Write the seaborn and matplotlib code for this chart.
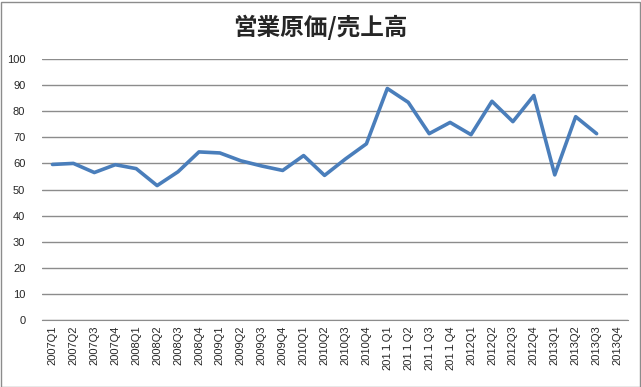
import numpy as np
import pandas as pd
import matplotlib
matplotlib.use('Agg')
import matplotlib.pyplot as plt
import seaborn as sns
from matplotlib.patches import Rectangle

# Quarter labels (2011 uses a full-width "1" as in the source)
quarters = ['2007Q1', '2007Q2', '2007Q3', '2007Q4',
            '2008Q1', '2008Q2', '2008Q3', '2008Q4',
            '2009Q1', '2009Q2', '2009Q3', '2009Q4',
            '2010Q1', '2010Q2', '2010Q3', '2010Q4',
            '201１Q1', '201１Q2', '201１Q3', '201１Q4',
            '2012Q1', '2012Q2', '2012Q3', '2012Q4',
            '2013Q1', '2013Q2', '2013Q3', '2013Q4']

# cost of sales / revenue (%)
ratio = [59.6, 60.0, 56.5, 59.5,
         58.0, 51.5, 56.8, 64.4,
         64.0, 61.0, 59.0, 57.3,
         63.0, 55.4, 61.7, 67.5,
         88.7, 83.4, 71.4, 75.7,
         71.0, 83.8, 76.0, 86.0,
         55.6, 77.9, 71.4, np.nan]

title = '営業原価/売上高'

df = pd.DataFrame({'pos': np.arange(len(quarters)), 'ratio': ratio})

sns.set_style('white')
plt.rcParams['font.family'] = ['Liberation Sans', 'Noto Sans CJK JP', 'DejaVu Sans']

fig = plt.figure(figsize=(6.41, 3.87), dpi=100)
ax = fig.add_axes([42 / 641, 67 / 387, 586 / 641, 261 / 387])

sns.lineplot(data=df, x='pos', y='ratio', ax=ax, color='#4a7ebb', linewidth=2.6)

ax.set_xlim(-0.5, len(quarters) - 0.5)
ax.set_ylim(0, 100)
ax.set_yticks(np.arange(0, 101, 10))
ax.set_xticks(np.arange(len(quarters)))
ax.set_xticklabels(quarters, rotation=90, fontsize=8)
ax.tick_params(axis='y', labelsize=8, length=0, pad=12)
ax.tick_params(axis='x', length=0, pad=4)
ax.set_xlabel('')
ax.set_ylabel('')
ax.grid(axis='y', color='#8c8c8c', linewidth=1)
ax.set_axisbelow(True)
for side in ['top', 'right', 'left']:
    ax.spines[side].set_visible(False)
ax.spines['bottom'].set_color('#8c8c8c')

fig.text(0.5, 1 - 27 / 387, title, ha='center', va='center', fontsize=17,
         fontweight='bold', family=['Noto Sans CJK JP', 'DejaVu Sans'])

fig.patches.append(Rectangle((0.5 / 641, 0.5 / 387), 639 / 641, 385 / 387,
                             transform=fig.transFigure, fill=False,
                             edgecolor='#8c8c8c', linewidth=1))

fig.savefig('out.png', dpi=100)
